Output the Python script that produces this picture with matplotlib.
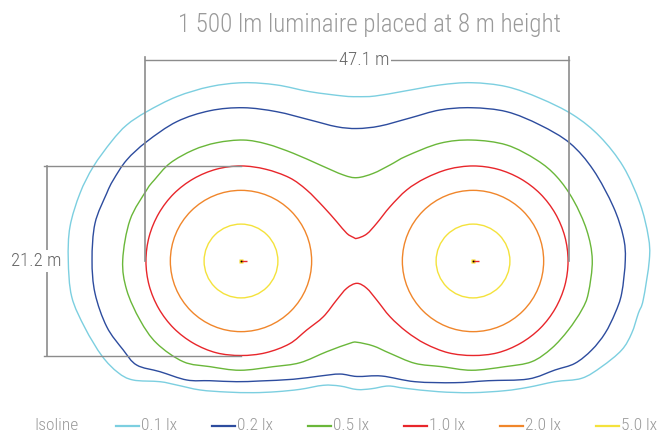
import matplotlib
matplotlib.use("Agg")
import matplotlib.pyplot as plt
from matplotlib.lines import Line2D
from matplotlib.patches import Circle, PathPatch
from matplotlib.path import Path
from matplotlib import font_manager as fm

names = {f.name for f in fm.fontManager.ttflist}
FONT = "Roboto Condensed" if "Roboto Condensed" in names else "Roboto"
FW = "light"

# ---------------- data (metres, origin midway between the luminaires) ----------------
title = "1 500 lm luminaire placed at 8 m height"
luminaire_x = [-12.89, 12.89]
luminaire_y = [0.0, 0.0]
width_label = "47.1 m"
width_m = 47.1
height_label = "21.2 m"
height_m = 21.2

levels = ["0.1 lx", "0.2 lx", "0.5 lx", "1.0 lx", "2.0 lx", "5.0 lx"]
colors = ["#7ccfe0", "#2d4c9e", "#6ab73a", "#e8262b", "#f0862b", "#f4e23c"]

# circular isolines (radius in m around each luminaire)
r_2lx = 7.85
r_5lx = 4.1

iso_01_x = [0, -1.52, -5.22, -8.92, -12.63, -16.33, -20.03, -23.37, -25.59, -27.28, -29.3, -30.78,
            -31.89, -32.08, -31.7, -30.22, -28.33, -26.56, -24.89, -21.89, -20.03, -17.44, -14.48,
            -11.52, -8.92, -6.33, -3.74, -1.89, 0, 1.63, 3.48, 5.33, 9.03, 12.74, 16.44, 19.03, 22.0,
            24.97, 27.19, 29.41, 30.52, 31.26, 31.8, 32.48, 32.37, 31.44, 29.59, 27.0, 24.03, 20.33,
            16.63, 12.74, 9.22, 5.33, 2.0]
iso_01_y = [18.26, 18.33, 18.81, 19.56, 19.81, 19.37, 18.26, 16.59, 15.11, 13.28, 10.48, 7.52,
            3.81, 0.11, -3.97, -7.44, -10.56, -12.39, -13.22, -13.41, -13.78, -14.33, -14.56,
            -14.63, -14.52, -14.26, -13.81, -13.89, -14.28, -14.19, -13.89, -14.14, -14.52, -14.63,
            -14.41, -14.03, -13.41, -13.03, -11.74, -9.89, -8.03, -5.81, -4.33, 0.11, 2.7, 6.41,
            10.48, 13.81, 16.22, 18.08, 19.37, 19.81, 19.56, 18.89, 18.33]

iso_02_x = [0, -2.26, -5.22, -8.92, -12.63, -16.33, -20.03, -23.37, -25.59, -27.08, -27.81, -29.11,
            -29.44, -29.11, -27.81, -25.97, -24.48, -21.89, -18.92, -16.33, -13.37, -10.78, -7.08,
            -4.11, -1.89, 0, 2.74, 6.44, 10.89, 14.59, 19.03, 22.0, 24.22, 26.08, 27.56, 28.67,
            29.41, 29.81, 29.59, 28.48, 26.26, 23.67, 20.33, 16.63, 12.74, 9.22, 5.89, 2.56]
iso_02_y = [14.72, 14.92, 15.67, 16.59, 17.03, 16.7, 15.48, 13.26, 11.22, 9.0, 7.52, 4.19,
            0.11, -3.59, -7.3, -9.89, -11.56, -12.3, -13.22, -13.3, -13.41, -13.33, -13.14,
            -12.78, -12.56, -12.83, -12.78, -13.41, -13.52, -13.3, -13.11, -12.11, -11.37, -9.89,
            -8.03, -5.81, -3.59, 0.11, 2.7, 6.03, 10.11, 13.08, 15.11, 16.59, 17.03, 16.78,
            15.89, 15.0]

iso_05_x = [0, -1.52, -4.11, -7.08, -10.03, -12.63, -15.59, -18.19, -20.78, -22.52, -23.37, -25.22,
            -26.03, -25.59, -24.11, -22.26, -19.3, -16.33, -13.0, -9.3, -6.33, -3.37, -0.78, 0,
            1.81, 3.67, 6.44, 9.41, 12.74, 16.44, 19.41, 21.63, 23.48, 24.97, 25.7, 26.14, 25.52,
            24.03, 22.19, 19.97, 16.63, 12.74, 9.22, 5.52, 3.67, 1.81]
iso_05_y = [9.26, 9.56, 10.67, 11.97, 13.0, 13.44, 13.14, 12.33, 10.86, 9.0, 7.89, 4.56,
            0.11, -3.22, -6.56, -9.14, -11.19, -11.74, -12.14, -11.74, -11.3, -10.08, -9.14, -9.03,
            -9.44, -10.26, -11.37, -11.74, -12.14, -11.74, -11.19, -9.7, -7.67, -5.44, -3.59, 0.11,
            3.44, 6.78, 9.37, 11.22, 12.89, 13.44, 13.08, 11.67, 10.67, 9.74]

iso_10_x = [0, -0.41, -1.14, -2.26, -3.74, -5.59, -7.5, -10.16, -12.89, -15.62, -18.17, -20.36,
            -22.03, -23.09, -23.45, -23.09, -22.03, -20.36, -18.17, -15.62, -12.89, -10.16, -7.5,
            -5.59, -3.74, -2.26, -1.14, 0, 1.08, 2.19, 3.67, 5.52, 7.6, 10.16, 12.89, 15.62, 18.17,
            20.36, 22.03, 23.09, 23.45, 23.09, 22.03, 20.36, 18.17, 15.62, 12.89, 10.16, 7.6, 5.52,
            3.67, 2.19, 1.08]
iso_10_y = [2.52, 2.63, 3.08, 4.37, 6.03, 7.89, 9.25, 10.2, 10.56, 10.2, 9.14, 7.47,
            5.28, 2.73, 0, -2.73, -5.28, -7.47, -9.14, -10.2, -10.5, -10.2, -9.2,
            -7.67, -6.19, -4.33, -3.03, -2.48, -3.03, -4.33, -6.19, -7.86, -9.2, -10.2, -10.5, -10.2,
            -9.14, -7.47, -5.28, -2.73, 0, 2.73, 5.28, 7.47, 9.14, 10.2, 10.56, 10.2, 9.2, 7.89,
            6.03, 4.19, 3.0]


def smooth_closed(xs, ys):
    """Closed Catmull-Rom curve through the read points, drawn as cubic Bezier segments."""
    pts = list(zip(xs, ys))
    n = len(pts)
    verts = [pts[0]]
    codes = [Path.MOVETO]
    for i in range(n):
        p0, p1, p2, p3 = pts[i - 1], pts[i], pts[(i + 1) % n], pts[(i + 2) % n]
        c1 = (p1[0] + (p2[0] - p0[0]) / 6, p1[1] + (p2[1] - p0[1]) / 6)
        c2 = (p2[0] - (p3[0] - p1[0]) / 6, p2[1] - (p3[1] - p1[1]) / 6)
        verts += [c1, c2, p2]
        codes += [Path.CURVE4] * 3
    return Path(verts, codes)


# ---------------- figure ----------------
W, H = 662, 434
SC = 9.0           # pixels per metre
CX, CY = 357, 261  # pixel position of origin
fig = plt.figure(figsize=(W / 100, H / 100), dpi=100)
ax = fig.add_axes([0, 0, 1, 1])
ax.set_xlim(-CX / SC, (W - CX) / SC)
ax.set_ylim(-(H - CY) / SC, CY / SC)
ax.axis("off")

LW = 1.0
for (xs, ys), col in zip([(iso_01_x, iso_01_y), (iso_02_x, iso_02_y),
                          (iso_05_x, iso_05_y), (iso_10_x, iso_10_y)], colors[:4]):
    ax.add_patch(PathPatch(smooth_closed(xs, ys), fill=False, ec=col, lw=LW))
for lx, ly in zip(luminaire_x, luminaire_y):
    ax.add_patch(Circle((lx, ly), r_2lx, fill=False, ec=colors[4], lw=LW))
    ax.add_patch(Circle((lx, ly), r_5lx, fill=False, ec=colors[5], lw=LW))

# luminaires
for lx, ly in zip(luminaire_x, luminaire_y):
    ax.plot([lx, lx + 0.7], [ly, ly], color="#e8262b", lw=1.0, solid_capstyle="butt", zorder=5)
    ax.plot(lx, ly, "s", ms=3.5, color="#f4d41c", mec="none", zorder=4)
    ax.plot(lx, ly, "o", ms=1.3, color="black", mec="none", zorder=6)

# dimension lines
DIM = "#8c8c8c"
half_w = width_m / 2
y_dim = 22.33
ax.plot([-half_w, half_w], [y_dim, y_dim], color=DIM, lw=1.0)
for xx in (-half_w, half_w):
    ax.plot([xx, xx], [0, y_dim + 0.35], color=DIM, lw=1.2)
ax.text(0.75, y_dim, width_label, ha="center", va="center", fontsize=13.5, color="#666666",
        family=FONT, fontweight=FW, bbox=dict(fc="white", ec="none", pad=1.5))

half_h = height_m / 2
x_dim = -34.44
ax.plot([x_dim, x_dim], [-half_h, half_h], color=DIM, lw=1.2)
for yy in (-half_h, half_h):
    ax.plot([x_dim - 0.35, luminaire_x[0]], [yy, yy], color=DIM, lw=1.0)
ax.text(-35.7, 0, height_label, ha="center", va="center", fontsize=13.5, color="#666666",
        family=FONT, fontweight=FW, bbox=dict(fc="white", ec="none", pad=1.5))

# title
fig.text(369 / W, 1 - 25 / H, title, ha="center", va="center", fontsize=18, color="#9a9a9a",
         family=FONT, fontweight=FW)

# legend
LEG_Y = 1 - 426 / H
fig.text(34 / W, LEG_Y, "Isoline", ha="left", va="center", fontsize=12.5, color="#9a9a9a",
         family=FONT, fontweight=FW)
for i, (lab, col) in enumerate(zip(levels, colors)):
    x0 = 116 + 96 * i
    fig.add_artist(Line2D([x0 / W, (x0 + 23) / W], [LEG_Y, LEG_Y], color=col, lw=1.6,
                          transform=fig.transFigure))
    fig.text((x0 + 25) / W, LEG_Y, lab, ha="left", va="center", fontsize=12.5, color="#9a9a9a",
             family=FONT, fontweight=FW)

fig.savefig("out.png", dpi=100)
